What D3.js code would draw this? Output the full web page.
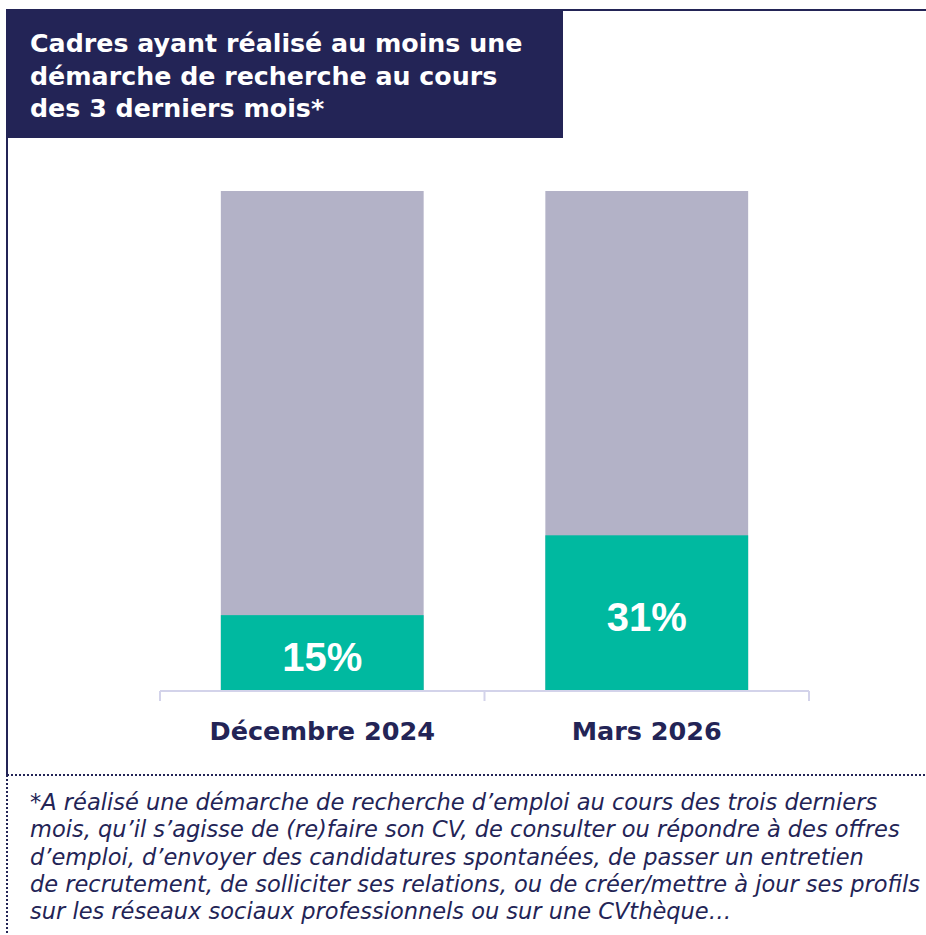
<!DOCTYPE html>
<html><head><meta charset="utf-8">
<script src="https://cdn.jsdelivr.net/npm/d3@7"></script>
<style>body{margin:0;background:#fff}svg{display:block}</style>
</head><body>
<script>
const categories = ["Décembre 2024", "Mars 2026"];
const values = [15, 31];
const totals = [100, 100];
const titleLines = ["Cadres ayant réalisé au moins une", "démarche de recherche au cours", "des 3 derniers mois*"];
const noteLines = [
  "*A réalisé une démarche de recherche d’emploi au cours des trois derniers",
  "mois, qu’il s’agisse de (re)faire son CV, de consulter ou répondre à des offres",
  "d’emploi, d’envoyer des candidatures spontanées, de passer un entretien",
  "de recrutement, de solliciter ses relations, ou de créer/mettre à jour ses profils",
  "sur les réseaux sociaux professionnels ou sur une CVthèque…"
];

const W = 926, H = 935;
const navy = "#232456";
const svg = d3.select("body").append("svg").attr("width", W).attr("height", H);

// frame
svg.append("line").attr("x1", 6).attr("x2", W).attr("y1", 10).attr("y2", 10).attr("stroke", navy).attr("stroke-width", 2);
svg.append("line").attr("x1", 7).attr("x2", 7).attr("y1", 10).attr("y2", 775).attr("stroke", navy).attr("stroke-width", 2);
svg.append("line").attr("x1", 7).attr("x2", 7).attr("y1", 775).attr("y2", H).attr("stroke", navy).attr("stroke-width", 2).attr("stroke-dasharray", "2,2");
svg.append("line").attr("x1", 7).attr("x2", W).attr("y1", 775).attr("y2", 775).attr("stroke", navy).attr("stroke-width", 2).attr("stroke-dasharray", "2,2");

// title box
svg.append("rect").attr("x", 7).attr("y", 10).attr("width", 556).attr("height", 128).attr("fill", navy);
svg.append("g").selectAll("text").data(titleLines).join("text")
  .attr("x", 30).attr("y", (d, i) => 52 + i * 32.5)
  .attr("fill", "#fff").attr("font-family", "DejaVu Sans, sans-serif")
  .attr("font-weight", "bold").attr("font-size", 25.3).text(d => d);

// scales
const x = d3.scaleBand().domain(categories).range([160, 809]).paddingInner(0.375).paddingOuter(0.1875);
const y = d3.scaleLinear().domain([0, 100]).range([690, 191]);

const g = svg.append("g");
g.selectAll("rect.bg").data(categories).join("rect").attr("class", "bg")
  .attr("x", d => x(d)).attr("width", x.bandwidth())
  .attr("y", (d, i) => y(totals[i])).attr("height", (d, i) => y(0) - y(totals[i]))
  .attr("fill", "#b3b2c7");
g.selectAll("rect.val").data(categories).join("rect").attr("class", "val")
  .attr("x", d => x(d)).attr("width", x.bandwidth())
  .attr("y", (d, i) => y(values[i])).attr("height", (d, i) => y(0) - y(values[i]))
  .attr("fill", "#00b9a0");
g.selectAll("text.val").data(categories).join("text").attr("class", "val")
  .attr("x", d => x(d) + x.bandwidth() / 2)
  .attr("y", (d, i) => (y(values[i]) + y(0)) / 2 + 18)
  .attr("text-anchor", "middle").attr("fill", "#fff")
  .attr("font-family", "Liberation Sans, Arial, sans-serif").attr("font-weight", "bold").attr("font-size", 40)
  .text((d, i) => values[i] + "%");

// axis
const axisY = 691;
svg.append("line").attr("x1", 160).attr("x2", 809).attr("y1", axisY).attr("y2", axisY).attr("stroke", "#d3d3ea").attr("stroke-width", 2);
const tickX = [160, (x(categories[0]) + x.bandwidth() + x(categories[1])) / 2, 809];
svg.selectAll("line.tick").data(tickX).join("line").attr("class", "tick")
  .attr("x1", d => d).attr("x2", d => d).attr("y1", axisY).attr("y2", 701)
  .attr("stroke", "#d3d3ea").attr("stroke-width", 2);
svg.selectAll("text.cat").data(categories).join("text").attr("class", "cat")
  .attr("x", d => x(d) + x.bandwidth() / 2).attr("y", 740)
  .attr("text-anchor", "middle").attr("fill", navy)
  .attr("font-family", "DejaVu Sans, sans-serif").attr("font-weight", "bold").attr("font-size", 25.5)
  .text(d => d);

// footnote
svg.append("g").selectAll("text").data(noteLines).join("text")
  .attr("x", 30).attr("y", (d, i) => 810 + i * 27.3)
  .attr("fill", navy).attr("font-family", "DejaVu Sans, sans-serif")
  .attr("font-style", "italic").attr("font-size", 22.5).text(d => d);
</script>
</body></html>
